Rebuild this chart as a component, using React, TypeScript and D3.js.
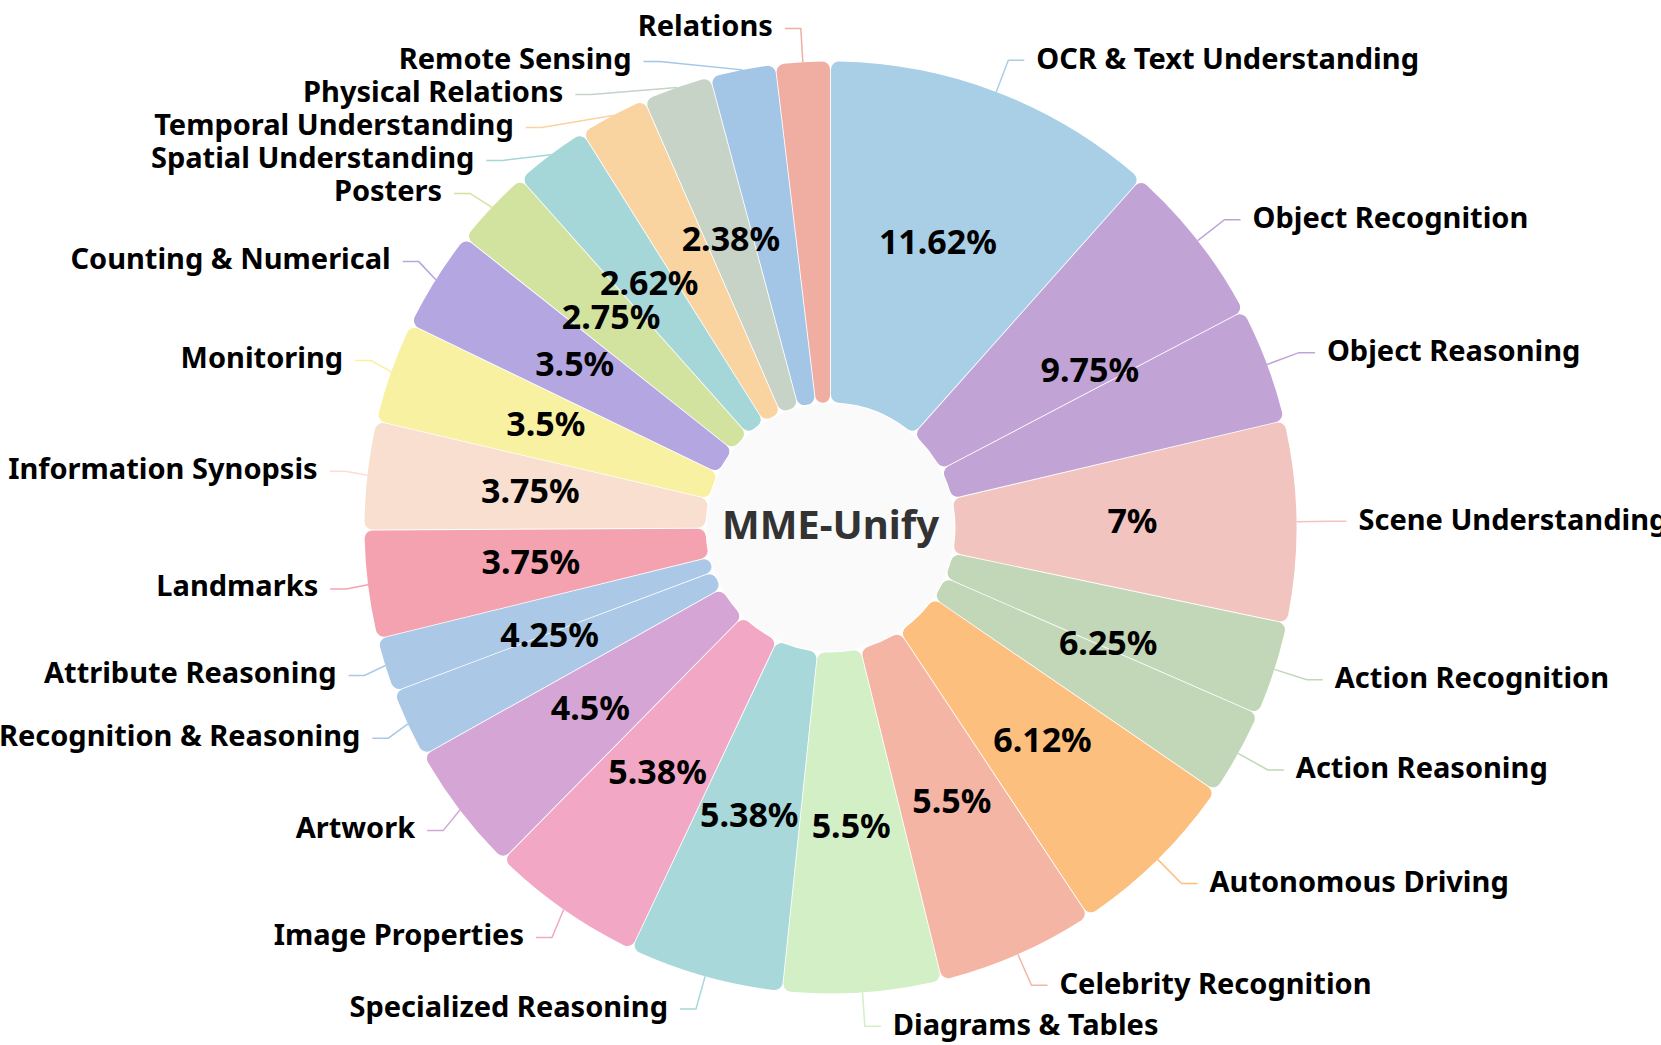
import React, { useMemo } from 'react'
import * as d3 from 'd3'

// one entry per slice, clockwise from 12 o'clock
const categories = [
	'OCR & Text Understanding', 'Object Recognition', 'Object Reasoning', 'Scene Understanding',
	'Action Recognition', 'Action Reasoning', 'Autonomous Driving', 'Celebrity Recognition',
	'Diagrams & Tables', 'Specialized Reasoning', 'Image Properties', 'Artwork',
	'Emotion Recognition & Reasoning', 'Attribute Reasoning', 'Landmarks', 'Information Synopsis',
	'Monitoring', 'Counting & Numerical', 'Posters', 'Spatial Understanding',
	'Temporal Understanding', 'Physical Relations', 'Remote Sensing', 'Relations',
]
const counts = [93, 46, 32, 56, 26, 24, 49, 44, 44, 43, 43, 36, 19, 15, 30, 30, 28, 28, 22, 21, 19, 19, 18, 15]
const colors = [
	'#a8cfe6', '#c1a3d6', '#c1a3d6', '#f1c4bf', '#c2d7b7', '#c2d7b7', '#fdbf7d', '#f5b5a4',
	'#d3efc6', '#a8d8da', '#f2a7c5', '#d5a5d5', '#abc9e6', '#abc9e6', '#f5a2b0', '#f8dfd0',
	'#f8f1a1', '#b4a6e1', '#d2e3a0', '#a5d7d8', '#f9d3a0', '#c6d3c6', '#a3c5e6', '#f0aea2',
]
// slices sharing a group share one percentage label
const groupOf = [0, 1, 1, 2, 3, 3, 4, 5, 6, 7, 8, 9, 10, 10, 11, 12, 13, 14, 15, 16, 17, 18, 19, 20]
const groupLabels = [
	'11.62%', '9.75%', '7%', '6.25%', '6.12%', '5.5%', '5.5%', '5.38%', '5.38%', '4.5%', '4.25%',
	'3.75%', '3.75%', '3.5%', '3.5%', '2.75%', '2.62%', '', '2.38%', '', '',
]
const centerTitle = 'MME-Unify'

const W = 1661
const H = 1045
const cx = W / 2
const cy = 527.5
const rInner = 125
const rOuter = 466
const rText = 302
const len1 = 34
const len2 = 16
const textGap = 12
const labelH = 33
const FONT = "'Noto Sans', 'Open Sans', 'DejaVu Sans', sans-serif"

type Lab = { i: number, dir: number, x1: number, y1: number, x2: number, x3: number, x: number, y: number }

// echarts-like outside label layout: push overlapping labels down, then put them on an ellipse
function layoutLabels(arcs: d3.PieArcDatum<number>[]): Lab[] {
	const labs: Lab[] = arcs.map((a, i) => {
		const mid = (a.startAngle + a.endAngle) / 2
		const sx = Math.sin(mid)
		const sy = -Math.cos(mid)
		const dir = sx < 0 ? -1 : 1
		const x2 = cx + (rOuter + len1) * sx
		const x3 = x2 + dir * len2
		return {
			i, dir,
			x1: cx + rOuter * sx, y1: cy + rOuter * sy,
			x2, x3, x: x3 + dir * textGap, y: cy + (rOuter + len1) * sy,
		}
	})
	;[-1, 1].forEach(dir => {
		const side = labs.filter(l => l.dir === dir).sort((a, b) => a.y - b.y)
		let last = 0
		let adjusted = false
		side.forEach(l => {
			const top = l.y - labelH / 2
			if (top < last) { l.y += last - top; adjusted = true }
			last = l.y + labelH / 2
		})
		// keep the bottom one in view
		let bound = H
		for (let k = side.length - 1; k >= 0; k--) {
			const l = side[k]
			if (l.y + labelH / 2 > bound) { l.y = bound - labelH / 2; adjusted = true }
			bound = l.y - labelH / 2
		}
		if (!adjusted) return
		const rA = rOuter + len1
		;[true, false].forEach(isTop => {
			const list = side.filter(l => isTop ? l.y <= cy : l.y > cy)
			if (!list.length) return
			const ext = isTop ? list[0] : list[list.length - 1]
			const dy0 = Math.abs(ext.y - cy)
			const dx0 = ext.x - cx - len2 * dir
			const rB = Math.abs(dx0) < rA ? Math.sqrt(dy0 * dy0 / (1 - dx0 * dx0 / rA / rA)) : rA
			list.forEach(l => {
				const dy = Math.abs(l.y - cy)
				const dxE = Math.sqrt(Math.max(0, 1 - dy * dy / (rB * rB))) * rA
				l.x = cx + (dxE + len2) * dir
				l.x3 = l.x - dir * textGap
				l.x2 = l.x3 - dir * len2
			})
		})
	})
	return labs
}

export default function App() {
	const arcs = useMemo(() => d3.pie<number>()
		.sort(null)
		.value(d => d)
		.padAngle(0.0018)(counts), [])

	const arc = d3.arc<d3.PieArcDatum<number>>()
		.innerRadius(rInner)
		.outerRadius(rOuter)
		.cornerRadius(8)

	const labs = useMemo(() => layoutLabels(arcs), [arcs])

	// angle span of each group for the percentage text
	const groupSpans = groupLabels.map((txt, g) => {
		const members = arcs.filter((a, i) => groupOf[i] === g)
		const start = d3.min(members, a => a.startAngle) as number
		const end = d3.max(members, a => a.endAngle) as number
		return { txt, mid: (start + end) / 2 }
	})

	return (
		<svg width={W} height={H} style={{ position: 'absolute', left: 0, top: 0, background: '#fff' }}
			fontFamily={FONT}>
			<circle cx={cx} cy={cy} r={rInner - 1} fill="#fafafa" />
			<g transform={`translate(${cx},${cy})`}>
				{arcs.map((a, i) => (
					<path key={categories[i]} d={arc(a) || ''} fill={colors[i]} />
				))}
			</g>
			<g className="label-lines" fill="none" strokeWidth={1.5}>
				{labs.map(l => (
					<polyline key={l.i} stroke={colors[l.i]}
						points={`${l.x1},${l.y1} ${l.x2},${l.y} ${l.x3},${l.y}`} />
				))}
			</g>
			<g className="names" fontSize={29} fontWeight="bold" fill="#000">
				{labs.map(l => (
					<text key={l.i} x={l.x} y={l.y - (l.dir > 0 ? 3 : 4)} textAnchor={l.dir > 0 ? 'start' : 'end'}
						dominantBaseline="central">{categories[l.i]}</text>
				))}
			</g>
			<g className="percents" fontSize={34} fontWeight="bold" fill="#000" textAnchor="middle">
				{groupSpans.map((g, k) => g.txt ? (
					<text key={k} x={cx + rText * Math.sin(g.mid)} y={cy - rText * Math.cos(g.mid) - 4}
						dominantBaseline="central">{g.txt}</text>
				) : null)}
			</g>
			<text x={cx} y={cy - 4} textAnchor="middle" dominantBaseline="central"
				fontSize={40} fontWeight="bold" fill="#333">{centerTitle}</text>
		</svg>
	)
}
